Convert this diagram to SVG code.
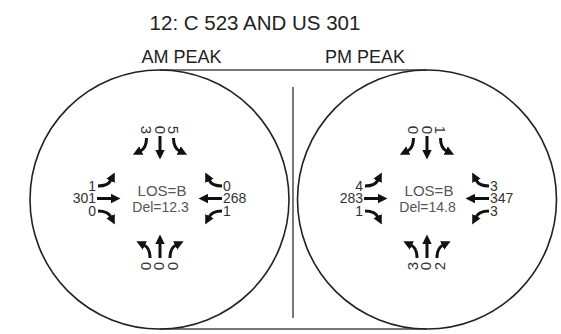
<svg xmlns="http://www.w3.org/2000/svg" xmlns:xlink="http://www.w3.org/1999/xlink" width="561" height="334" viewBox="0 0 561 334">
  <style>
    text { font-family: "Liberation Sans", Arial, sans-serif; }
    .title { font-size: 20.5px; fill: #222; text-anchor: middle; }
    .peak { font-size: 18px; fill: #222; text-anchor: middle; }
    .los { font-size: 15px; fill: #555; text-anchor: middle; }
    .del { font-size: 14px; fill: #555; text-anchor: middle; }
    .vol { font-size: 14px; fill: #333; }
    .rot { font-size: 15px; fill: #333; text-anchor: middle; }
    .ring { fill: none; stroke: #222; stroke-width: 1.6; }
    .rule { fill: none; stroke: #777; stroke-width: 2; }
    .mv { fill: none; stroke: #111; stroke-width: 3; marker-end: url(#head); }
  </style>
  <defs>
    <marker id="head" markerUnits="userSpaceOnUse" viewBox="0 0 10 10" markerWidth="10" markerHeight="10" refX="1" refY="5" orient="auto">
      <path d="M0,0.3 L9.5,5 L0,9.7 Z" fill="#111"/>
    </marker>
    <!-- movement shapes, drawn for a vehicle travelling in +x -->
    <path id="thru" class="mv" d="M0,0 H15"/>
    <path id="turnL" class="mv" d="M0,0 Q10,0 13,-6"/>
    <path id="turnR" class="mv" d="M0,0 Q10,0 13,6"/>
    <!-- approach arrows for one intersection, centred near (160,198) -->
    <g id="arrows">
      <!-- eastbound -->
      <use xlink:href="#turnL" transform="translate(98,186)"/>
      <use xlink:href="#thru" transform="translate(97,198.5)"/>
      <use xlink:href="#turnR" transform="translate(98,211)"/>
      <!-- westbound -->
      <use xlink:href="#turnR" transform="translate(222,186) rotate(180)"/>
      <use xlink:href="#thru" transform="translate(222,198.5) rotate(180)"/>
      <use xlink:href="#turnL" transform="translate(222,211) rotate(180)"/>
      <!-- southbound -->
      <use xlink:href="#turnR" transform="translate(146.5,138) rotate(90)"/>
      <use xlink:href="#thru" transform="translate(160,136) rotate(90)"/>
      <use xlink:href="#turnL" transform="translate(173.5,138) rotate(90)"/>
      <!-- northbound -->
      <use xlink:href="#turnL" transform="translate(150,258) rotate(-90)"/>
      <use xlink:href="#thru" transform="translate(160,258) rotate(-90)"/>
      <use xlink:href="#turnR" transform="translate(170,258) rotate(-90)"/>
    </g>
  </defs>

  <g id="title">
    <text class="title" x="255" y="30">12: C 523 AND US 301</text>
  </g>

  <g id="frame">
    <line class="rule" x1="159.5" y1="70" x2="427" y2="70"/>
    <line class="rule" x1="159.5" y1="329" x2="427" y2="329"/>
    <line class="rule" x1="293" y1="87" x2="293" y2="318"/>
  </g>

  <g id="am-peak">
    <text class="peak" x="181.5" y="63">AM PEAK</text>
    <circle class="ring" cx="159.5" cy="199.5" r="129.5"/>
    <use xlink:href="#arrows"/>
    <text class="los" x="162" y="196">LOS=B</text>
    <text class="del" x="160.5" y="211.5">Del=12.3</text>
    <!-- eastbound volumes: left, through, right -->
    <text class="vol" text-anchor="end"><tspan x="96" y="190.5">1</tspan><tspan x="96" y="203">301</tspan><tspan x="96" y="215.8">0</tspan></text>
    <!-- westbound volumes -->
    <text class="vol"><tspan x="223" y="190.7">0</tspan><tspan x="223" y="203.3">268</tspan><tspan x="223" y="216">1</tspan></text>
    <!-- southbound volumes -->
    <text class="rot" y="5.3" transform="translate(146.7,130) rotate(90)">3</text>
    <text class="rot" y="5.3" transform="translate(160,130) rotate(90)">0</text>
    <text class="rot" y="5.3" transform="translate(173.3,130) rotate(90)">5</text>
    <!-- northbound volumes -->
    <text class="rot" y="5.3" transform="translate(145.5,266) rotate(-90)">0</text>
    <text class="rot" y="5.3" transform="translate(159,266) rotate(-90)">0</text>
    <text class="rot" y="5.3" transform="translate(172.5,266) rotate(-90)">0</text>
  </g>

  <g id="pm-peak">
    <text class="peak" x="365" y="63">PM PEAK</text>
    <circle class="ring" cx="427" cy="199.5" r="129.5"/>
    <g transform="translate(267,0)">
      <use xlink:href="#arrows"/>
      <text class="los" x="162" y="196">LOS=B</text>
      <text class="del" x="160.5" y="211.5">Del=14.8</text>
      <text class="vol" text-anchor="end"><tspan x="96" y="190.5">4</tspan><tspan x="96" y="203">283</tspan><tspan x="96" y="215.8">1</tspan></text>
      <text class="vol"><tspan x="223" y="190.7">3</tspan><tspan x="223" y="203.3">347</tspan><tspan x="223" y="216">3</tspan></text>
      <text class="rot" y="5.3" transform="translate(146.7,130) rotate(90)">0</text>
      <text class="rot" y="5.3" transform="translate(160,130) rotate(90)">0</text>
      <text class="rot" y="5.3" transform="translate(173.3,130) rotate(90)">1</text>
      <text class="rot" y="5.3" transform="translate(145.5,266) rotate(-90)">3</text>
      <text class="rot" y="5.3" transform="translate(159,266) rotate(-90)">0</text>
      <text class="rot" y="5.3" transform="translate(172.5,266) rotate(-90)">2</text>
    </g>
  </g>
</svg>
